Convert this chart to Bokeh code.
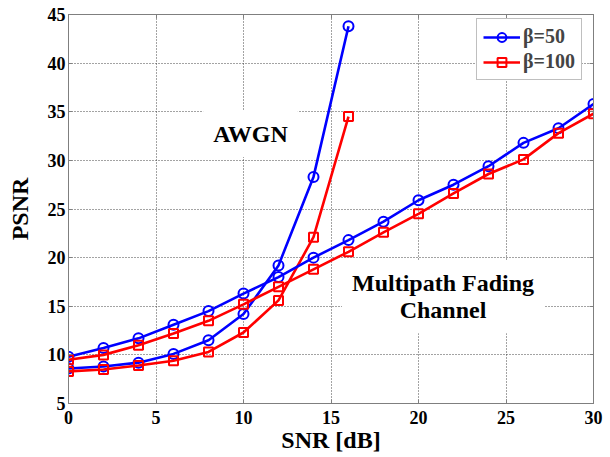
from bokeh.plotting import figure
from bokeh.models import Label, LinearAxis, FixedTicker, Range1d, Legend
from bokeh.embed import file_html
from bokeh.resources import INLINE

# ---- data ----
snr_awgn = [0, 2, 4, 6, 8, 10, 12, 14, 16]
awgn_b50 = [8.6, 8.8, 9.2, 10.1, 11.5, 14.2, 19.2, 28.3, 43.8]
awgn_b100 = [8.3, 8.5, 8.9, 9.4, 10.3, 12.3, 15.6, 22.1, 34.5]

snr_mp = [0, 2, 4, 6, 8, 10, 12, 14, 16, 18, 20, 22, 24, 26, 28, 30]
mp_b50 = [9.8, 10.7, 11.7, 13.1, 14.5, 16.3, 18.0, 20.0, 21.8, 23.7, 25.9, 27.5, 29.4, 31.8, 33.3, 35.8]
mp_b100 = [9.5, 10.0, 11.0, 12.2, 13.5, 15.2, 17.0, 18.8, 20.6, 22.6, 24.5, 26.6, 28.6, 30.1, 32.8, 34.8]

x_ticks = [0, 5, 10, 15, 20, 25, 30]
y_ticks = [5, 10, 15, 20, 25, 30, 35, 40, 45]
legend_labels = ["β=50", "β=100"]

FONT = "Liberation Serif"
AX = "#7f7f7f"

p = figure(width=610, height=457, output_backend="svg", toolbar_location=None,
           x_range=Range1d(0, 30), y_range=Range1d(5, 45),
           min_border_left=68, min_border_right=17, min_border_top=14, min_border_bottom=54,
           background_fill_color="white", border_fill_color="white")
p.outline_line_color = AX
p.outline_line_width = 1

# axes
for ax in (p.xaxis[0], p.yaxis[0]):
    ax.major_label_text_font = FONT
    ax.major_label_text_font_style = "bold"
    ax.major_label_text_font_size = "18px"
    ax.major_label_text_color = "black"
    ax.axis_label_text_font = FONT
    ax.axis_label_text_font_style = "bold"
    ax.axis_label_text_font_size = "24px"
    ax.axis_label_text_color = "black"
    ax.axis_line_color = AX
    ax.major_tick_line_color = AX
    ax.major_tick_in = 4
    ax.major_tick_out = 0
    ax.minor_tick_line_color = None

p.xaxis[0].ticker = FixedTicker(ticks=x_ticks)
p.yaxis[0].ticker = FixedTicker(ticks=y_ticks)
p.xaxis[0].axis_label = "SNR [dB]"
p.yaxis[0].axis_label = "PSNR"
p.xaxis[0].major_label_standoff = 7
p.xaxis[0].axis_label_standoff = 0
p.yaxis[0].major_label_standoff = 3
p.yaxis[0].axis_label_standoff = 12

right = LinearAxis(ticker=FixedTicker(ticks=y_ticks),
                   major_label_overrides={t: "" for t in y_ticks},
                   axis_line_color=AX, major_tick_line_color=AX, major_tick_in=4,
                   major_tick_out=0, minor_tick_line_color=None, major_label_standoff=0)
top = LinearAxis(ticker=FixedTicker(ticks=x_ticks),
                 major_label_overrides={t: "" for t in x_ticks},
                 axis_line_color=AX, major_tick_line_color=AX, major_tick_in=4,
                 major_tick_out=0, minor_tick_line_color=None, major_label_standoff=0)
p.add_layout(right, "right")
p.add_layout(top, "above")

# grid
p.xgrid.ticker = FixedTicker(ticks=x_ticks)
p.ygrid.ticker = FixedTicker(ticks=y_ticks)
for g in (p.xgrid[0], p.ygrid[0]):
    g.grid_line_color = "#333333"
    g.grid_line_dash = "1 2"
    g.grid_line_width = 1
    g.grid_line_alpha = 0.9

BLUE = "#0000ff"
RED = "#ff0000"
LW = 2.6

# AWGN curves
p.line(snr_awgn, awgn_b50, line_color=BLUE, line_width=LW)
p.scatter(snr_awgn, awgn_b50, marker="circle", size=10, fill_color=None, line_color=BLUE, line_width=2)
p.line(snr_awgn, awgn_b100, line_color=RED, line_width=LW)
p.scatter(snr_awgn, awgn_b100, marker="square", size=9, fill_color=None, line_color=RED, line_width=2)

# multipath curves
l1 = p.line(snr_mp, mp_b50, line_color=BLUE, line_width=LW)
s1 = p.scatter(snr_mp, mp_b50, marker="circle", size=10, fill_color=None, line_color=BLUE, line_width=2)
l2 = p.line(snr_mp, mp_b100, line_color=RED, line_width=LW)
s2 = p.scatter(snr_mp, mp_b100, marker="square", size=9, fill_color=None, line_color=RED, line_width=2)

legend = Legend(items=[(legend_labels[0], [l1, s1]), (legend_labels[1], [l2, s2])],
                location=(408, 323))
legend.label_text_font = FONT
legend.label_text_font_style = "bold"
legend.label_text_font_size = "20px"
legend.glyph_width = 37
legend.glyph_height = 22
legend.label_height = 22
legend.label_standoff = 3
legend.padding = 6
legend.spacing = 2
legend.margin = 0
legend.border_line_color = AX
legend.border_line_width = 1
legend.background_fill_color = "white"
legend.background_fill_alpha = 1
p.add_layout(legend)

# annotations
awgn = Label(x=10.4, y=32.7, text="AWGN", text_align="center", text_baseline="middle",
             text_font=FONT, text_font_style="bold", text_font_size="24px",
             text_color="black", background_fill_color="white", padding=10)
p.add_layout(awgn)

mp = Label(x=21.4, y=16.0, text="Multipath Fading\nChannel", text_align="center",
           text_baseline="middle", text_font=FONT, text_font_style="bold",
           text_font_size="24px", text_line_height=1.05, text_color="black",
           background_fill_color="white", padding=10)
p.add_layout(mp)

open("out.html", "w").write(file_html(p, INLINE))
